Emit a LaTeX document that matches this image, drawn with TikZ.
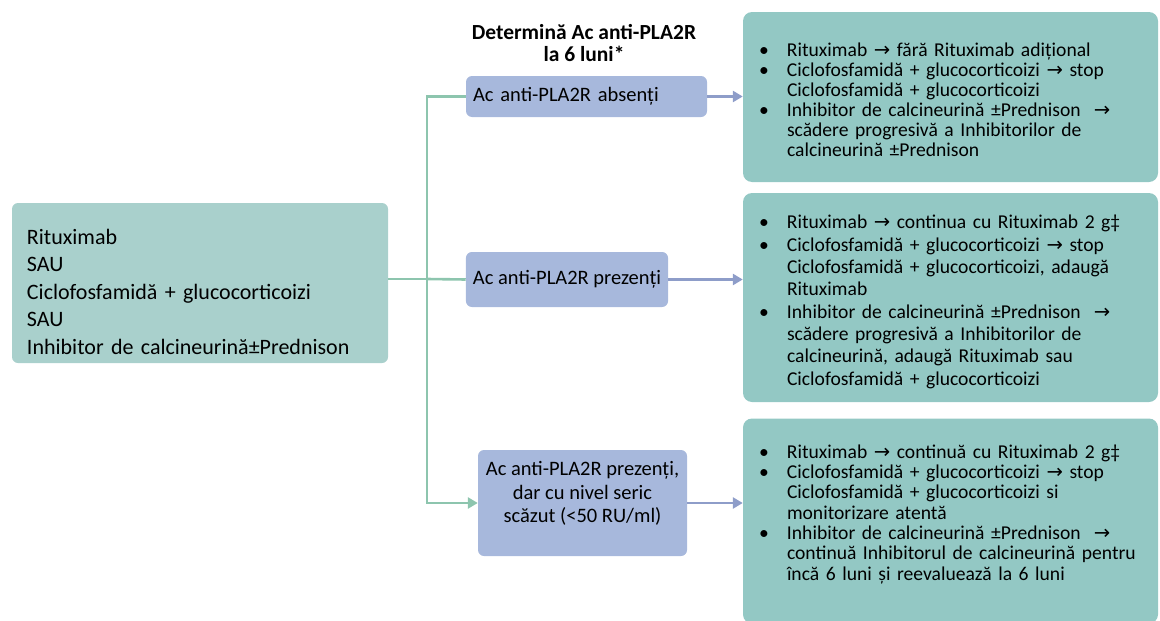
\documentclass[tikz,border=0pt]{standalone}
\usepackage{fontspec}
\setmainfont{Carlito}
\newfontfamily\arrowfont{DejaVu Sans}
\usetikzlibrary{arrows.meta}

\definecolor{startfill}{HTML}{A9D0CC}
\definecolor{testfill}{HTML}{A7B8DC}
\definecolor{outfill}{HTML}{93C8C4}
\definecolor{trunkcol}{HTML}{8DC5AE}
\definecolor{flowcol}{HTML}{8E9DC9}

\newcommand{\ar}{{\arrowfont\char"2192}}
\newcommand{\bul}[1]{\par\noindent\hangindent=44pt\hangafter=1\hbox to 44pt{\hskip 16pt\textbullet\hss}#1\par}

\tikzset{
    startbox/.style={rounded corners=6pt, fill=startfill, text width=346pt, inner xsep=15pt,
        minimum height=160pt, align=left, font=\fontsize{22}{27.5}\selectfont},
    testbox/.style={rounded corners=6pt, fill=testfill, inner xsep=7pt,
        font=\fontsize{20.5}{23.5}\selectfont},
    outbox/.style={rounded corners=9pt, fill=outfill, text width=415pt, inner xsep=0pt,
        align=left, font=\fontsize{19.6}{#1}\selectfont},
    trunk/.style={draw=trunkcol, line width=2.6pt},
    flow/.style={draw=flowcol, line width=2.6pt, -{Triangle[length=10pt,width=11pt]}},
}

\begin{document}
\begin{tikzpicture}[x=1pt, y=-1pt]
    \useasboundingbox (0,0) rectangle (1160,621);

    \node[startbox, text depth=93pt] (start) at (200,283) {Rituximab\\SAU\\Ciclofosfamidă + glucocorticoizi\\SAU\\Inhibitor de calcineurină±Prednison};

    \node[font=\bfseries\fontsize{21.5}{21.5}\selectfont, align=center] (title) at (584,43) {Determină Ac anti-PLA2R\\la 6 luni*};

    \node[testbox, text width=227pt, align=left, minimum height=41pt] (test-1) at (586.5,96.5) {Ac anti-PLA2R absenți};
    \node[testbox, minimum width=202pt, minimum height=55pt] (test-2) at (567,279.5) {Ac anti-PLA2R prezenți};
    \node[testbox, minimum width=209pt, minimum height=106pt, align=center, text depth=22pt] (test-3) at (582.5,503)
        {Ac anti-PLA2R prezenți,\\dar cu nivel seric\\scăzut (<50 RU/ml)};

    \node[outbox=20pt, minimum height=170pt] (out-1) at (950.5,97) {%
        \bul{Rituximab \ar{} fără Rituximab adițional}
        \bul{Ciclofosfamidă + glucocorticoizi \ar{} stop\newline Ciclofosfamidă + glucocorticoizi}
        \bul{Inhibitor de calcineurină ±Prednison \ \ar\newline scădere progresivă a Inhibitorilor de\newline calcineurină ±Prednison}};
    \node[outbox=22.3pt, minimum height=209pt] (out-2) at (950.5,297.5) {%
        \bul{Rituximab \ar{} continua cu Rituximab 2 g‡}
        \bul{Ciclofosfamidă + glucocorticoizi \ar{} stop\newline Ciclofosfamidă + glucocorticoizi, adaugă\newline Rituximab}
        \bul{Inhibitor de calcineurină ±Prednison \ \ar\newline scădere progresivă a Inhibitorilor de\newline calcineurină, adaugă Rituximab sau\newline Ciclofosfamidă + glucocorticoizi}};
    \node[outbox=20.3pt, minimum height=205pt, text depth=166pt] (out-3) at (950.5,521) {%
        \bul{Rituximab \ar{} continuă cu Rituximab 2 g‡}
        \bul{Ciclofosfamidă + glucocorticoizi \ar{} stop\newline Ciclofosfamidă + glucocorticoizi si\newline monitorizare atentă}
        \bul{Inhibitor de calcineurină ±Prednison \ \ar\newline continuă Inhibitorul de calcineurină pentru\newline încă 6 luni și reevaluează la 6 luni}};

    % tree on the left
    \coordinate (split) at (427,279);
    \draw[trunk] (split -| start.east) -- (split);
    \draw[trunk] (split) -- (test-2.west);
    \draw[trunk, -{Triangle[length=10pt,width=11pt]}] (test-1.west) -| (split) |- (test-3.west);

    \foreach \i in {1,2,3}
        \draw[flow] (test-\i.east) -- (test-\i.east -| out-\i.west);
\end{tikzpicture}
\end{document}
